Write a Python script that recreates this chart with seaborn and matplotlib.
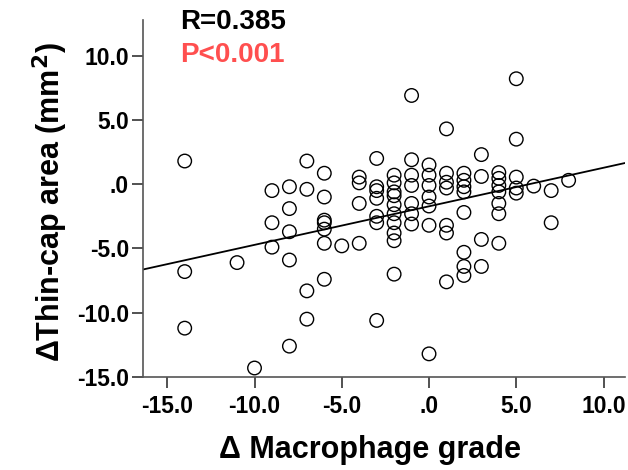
import matplotlib
matplotlib.use("Agg")
import matplotlib.pyplot as plt
import seaborn as sns
import pandas as pd
from matplotlib.ticker import FuncFormatter, FixedLocator

# === Data (delta macrophage grade vs delta thin-cap area) ===
macro_grade = (
    [-14] * 3 + [-11] + [-10] + [-9] * 3 + [-8] * 5 + [-7] * 4 + [-6] * 7 + [-5]
    + [-4] * 4 + [-3] * 7 + [-2] * 10 + [-1] * 7 + [0] * 7 + [1] * 7 + [2] * 8
    + [3] * 4 + [4] * 7 + [5] * 5 + [6] + [7] * 2 + [8]
)
thin_cap = [
    1.8, -6.8, -11.2,                                   # -14
    -6.1,                                               # -11
    -14.3,                                              # -10
    -0.5, -3.0, -4.9,                                   # -9
    -0.2, -1.9, -3.7, -5.9, -12.6,                      # -8
    1.8, -0.4, -8.3, -10.5,                             # -7
    0.85, -1.0, -2.8, -3.0, -3.5, -4.6, -7.4,           # -6
    -4.8,                                               # -5
    0.55, 0.1, -1.5, -4.6,                              # -4
    2.0, -0.2, -0.5, -1.1, -2.5, -3.0, -10.6,           # -3
    0.7, 0.1, -0.6, -0.9, -1.6, -2.3, -3.0, -3.8, -4.4, -7.0,  # -2
    6.9, 1.9, 0.7, -0.1, -1.5, -2.3, -3.1,              # -1
    1.5, 0.7, -0.1, -1.0, -1.7, -3.2, -13.2,            # 0
    4.3, 0.85, 0.15, -0.3, -3.2, -3.8, -7.6,            # 1
    0.85, 0.3, -0.2, -0.6, -2.2, -5.3, -6.4, -7.1,      # 2
    2.3, 0.6, -4.3, -6.4,                               # 3
    0.9, 0.45, -0.1, -0.6, -1.5, -2.3, -4.6,            # 4
    8.2, 3.5, 0.55, -0.3, -0.7,                         # 5
    -0.15,                                              # 6
    -0.5, -3.0,                                         # 7
    0.3,                                                # 8
]
tick_values = [-15, -10, -5, 0, 5, 10]
r_text = "R=0.385"
p_text = "P<0.001"

df = pd.DataFrame({"macro": macro_grade, "cap": thin_cap})

sns.set_style("ticks")
plt.rcParams["font.family"] = ["Liberation Sans", "DejaVu Sans"]
plt.rcParams["font.weight"] = "bold"
plt.rcParams["text.color"] = "black"

fig = plt.figure(figsize=(6.28, 4.70), dpi=100)
ax = fig.add_axes([143 / 628, 93 / 470, 482 / 628, 357 / 470])
ax.set_xlim(-16.39, 11.23)
ax.set_ylim(-15, 12.77)

sns.scatterplot(data=df, x="macro", y="cap", ax=ax, s=95, marker="o",
                facecolors="none", edgecolor="black", linewidth=1.0)
sns.regplot(data=df, x="macro", y="cap", ax=ax, scatter=False, ci=None,
            truncate=False, line_kws={"color": "black", "linewidth": 1.3})

# SPSS-like tick labels (".0" instead of "0.0")
def spss_fmt(v, pos):
    s = f"{v:.1f}"
    return ".0" if s in ("0.0", "-0.0") else s

for axis in (ax.xaxis, ax.yaxis):
    axis.set_major_locator(FixedLocator(tick_values))
    axis.set_major_formatter(FuncFormatter(spss_fmt))
ax.tick_params(axis="both", labelsize=16.5, length=8, width=1.2,
               color="#333333", labelcolor="black")
ax.tick_params(axis="x", pad=5)
ax.tick_params(axis="y", pad=2)
for lab in ax.get_xticklabels() + ax.get_yticklabels():
    lab.set_fontweight("bold")

sns.despine(ax=ax)
for sp in ("left", "bottom"):
    ax.spines[sp].set_color("#555555")
    ax.spines[sp].set_linewidth(1.2)

ax.set_xlabel("")
ax.set_ylabel("")
fig.text(370 / 628, 1 - 450 / 470, "Δ Macrophage grade", ha="center", va="center",
         fontsize=22, fontweight="bold", color="black")
fig.text(50 / 628, 1 - 202 / 470, "ΔThin-cap area (mm$^\\mathbf{2}$)", ha="center",
         va="center", rotation=90, fontsize=22, fontweight="bold", color="black")

fig.text(180 / 628, 1 - 22 / 470, r_text, ha="left", va="center",
         fontsize=20, fontweight="bold", color="black")
fig.text(180 / 628, 1 - 55 / 470, p_text, ha="left", va="center",
         fontsize=20, fontweight="bold", color="#ff4f4f")

fig.savefig("out.png", dpi=100)
